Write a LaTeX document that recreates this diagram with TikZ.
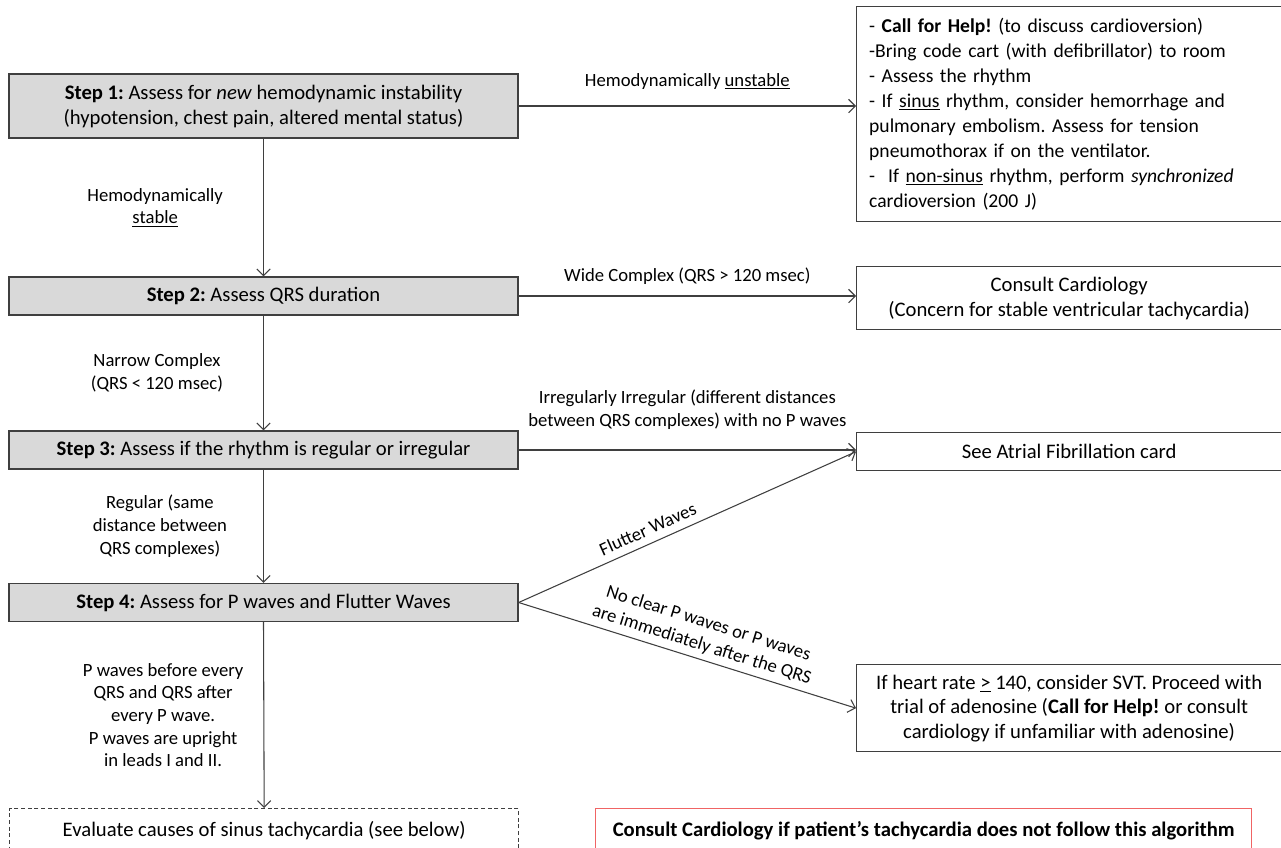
\documentclass[tikz,border=0pt]{standalone}
\usepackage{fontspec}
\setmainfont{Carlito}
\usetikzlibrary{arrows.meta,positioning}
\definecolor{stepgray}{HTML}{D9D9D9}
\definecolor{edgegray}{HTML}{3F3F3F}
\definecolor{warnred}{HTML}{F06464}
\frenchspacing

\begin{document}
\begin{tikzpicture}[x=.75pt,y=-.75pt,
  every node/.style={font=\fontsize{15.5}{18.75}\selectfont},
  stepbox/.style={draw=edgegray,line width=1pt,fill=stepgray,minimum width=381.75pt,minimum height=28.5pt,inner sep=0pt,align=center},
  outbox/.style={draw=edgegray,line width=1pt,fill=white,minimum width=318.75pt,minimum height=28.5pt,inner sep=0pt,align=center,anchor=north west},
  flow/.style={draw=edgegray,line width=.8pt,-{Straight Barb[length=5pt,width=10pt]}},
  lbl/.style={inner sep=0pt,align=center,font=\fontsize{14}{17}\selectfont}]
\clip (0,0) rectangle (1281,847);
% steps on the left
\node[stepbox,minimum height=48pt] (s1) at (263.5,106) {\textbf{Step 1:} Assess for \textit{new} hemodynamic instability\\(hypotension, chest pain, altered mental status)};
\node[stepbox] (s2) at (263.5,296) {\textbf{Step 2:} Assess QRS duration};
\node[stepbox] (s3) at (263.5,450) {\textbf{Step 3:} Assess if the rhythm is regular or irregular};
\node[stepbox] (s4) at (263.5,602.5) {\textbf{Step 4:} Assess for P waves and Flutter Waves};
% outcomes on the right
\node[outbox,align=left,text width=300pt,inner xsep=9pt,minimum height=161.25pt,font=\fontsize{14.7}{18.75}\selectfont] (help) at (856,6) {- \textbf{Call for Help!} (to discuss cardioversion)\\-Bring code cart (with defibrillator) to room\\- Assess the rhythm\\- If \underline{sinus} rhythm, consider hemorrhage and\\pulmonary embolism. Assess for tension\\pneumothorax if on the ventilator.\\-\ \ If \underline{non-sinus} rhythm, perform \textit{synchronized}\\cardioversion (200 J)};
\node[outbox,minimum height=47.25pt] (vt) at (856,266) {Consult Cardiology\\(Concern for stable ventricular tachycardia)};
\node[outbox] (afib) at (856,432) {See Atrial Fibrillation card};
\node[outbox,minimum height=65.25pt,font=\fontsize{15.5}{18.4}\selectfont] (svt) at (856,664) {If heart rate \underline{>} 140, consider SVT. Proceed with\\trial of adenosine (\textbf{Call for Help!} or consult\\cardiology if unfamiliar with adenosine)};
\node[outbox,draw=edgegray,dash pattern=on 3pt off 2pt,minimum width=381.75pt,minimum height=33pt] (sinus) at (9,808) {Evaluate causes of sinus tachycardia (see below)};
\node[outbox,draw=warnred,minimum width=492pt,minimum height=33pt] (note) at (595,808) {\textbf{Consult Cardiology if patient’s tachycardia does not follow this algorithm}};
% connectors
\draw[flow] (s1.east) -- (s1.east -| help.west) node[lbl,midway,above=12pt] (l1) {Hemodynamically \underline{unstable}};
\draw[flow] (s1.south) -- (s2.north) node[lbl,midway,left=30pt] (l2) {Hemodynamically\\\underline{stable}};
\draw[flow] (s2.east) -- (s2.east -| vt.west) node[lbl,midway,above=8pt] (l3) {Wide Complex (QRS > 120 msec)};
\draw[flow] (s2.south) -- (s3.north) node[lbl,midway,left=30pt] (l4) {Narrow Complex\\(QRS < 120 msec)};
\draw[flow] (s3.east) -- (s3.east -| afib.west) node[lbl,midway,above=15pt] (l5) {Irregularly Irregular (different distances\\between QRS complexes) with no P waves};
\draw[flow] (s3.south) -- (s4.north) node[lbl,midway,left=27pt] (l6) {Regular (same\\distance between\\QRS complexes)};
\draw[flow] (s4.east) -- (afib.west) node[lbl,pos=.4,sloped,above=5.5pt] (l7) {Flutter Waves};
\draw[flow] (s4.east) -- (svt.west) node[lbl,pos=.53,sloped,above=4pt] (l8) {No clear P waves or P waves\\are immediately after the QRS};
\draw[flow] (s4.south) -- (sinus.north) node[lbl,midway,left=15pt] (l9) {P waves before every\\QRS and QRS after\\every P wave.\\P waves are upright\\in leads I and II.};
\end{tikzpicture}
\end{document}
